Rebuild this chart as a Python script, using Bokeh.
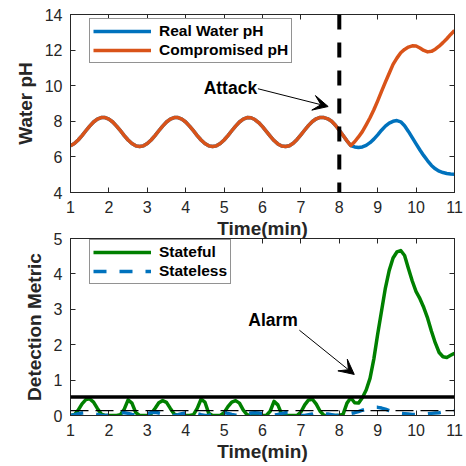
from bokeh.plotting import figure
from bokeh.models import (Span, Label, Arrow, VeeHead, LinearAxis, FixedTicker,
                          Legend, LegendItem, CustomJSTickFormatter)
from bokeh.layouts import column
from bokeh.embed import file_html
from bokeh.resources import INLINE

# ---------------------------------------------------------------- data
minutes = [
    1.0, 1.1, 1.2, 1.3, 1.4, 1.5, 1.6, 1.7, 1.8, 1.9,
    2.0, 2.1, 2.2, 2.3, 2.4, 2.5, 2.6, 2.7, 2.8, 2.9,
    3.0, 3.1, 3.2, 3.3, 3.4, 3.5, 3.6, 3.7, 3.8, 3.9,
    4.0, 4.1, 4.2, 4.3, 4.4, 4.5, 4.6, 4.7, 4.8, 4.9,
    5.0, 5.1, 5.2, 5.3, 5.4, 5.5, 5.6, 5.7, 5.8, 5.9,
    6.0, 6.1, 6.2, 6.3, 6.4, 6.5, 6.6, 6.7, 6.8, 6.9,
    7.0, 7.1, 7.2, 7.3, 7.4, 7.5, 7.6, 7.7, 7.8, 7.9,
    8.0, 8.1, 8.2, 8.3, 8.4, 8.5, 8.6, 8.7, 8.8, 8.9,
    9.0, 9.1, 9.2, 9.3, 9.4, 9.5, 9.6, 9.7, 9.8, 9.9,
    10.0, 10.1, 10.2, 10.3, 10.4, 10.5, 10.6, 10.7, 10.8, 10.9,
    11.0,
]

real_ph = [
    6.62, 6.75, 6.95, 7.20, 7.47, 7.73, 7.96, 8.12, 8.21, 8.21,
    8.12, 7.96, 7.73, 7.47, 7.20, 6.95, 6.75, 6.62, 6.58, 6.62,
    6.75, 6.95, 7.20, 7.47, 7.73, 7.96, 8.12, 8.21, 8.21, 8.12,
    7.96, 7.73, 7.47, 7.20, 6.95, 6.75, 6.62, 6.58, 6.62, 6.75,
    6.95, 7.20, 7.47, 7.73, 7.96, 8.12, 8.21, 8.20, 8.10, 7.93,
    7.70, 7.44, 7.17, 6.92, 6.73, 6.61, 6.58, 6.63, 6.77, 6.98,
    7.24, 7.51, 7.77, 7.99, 8.14, 8.22, 8.21, 8.14, 8.00, 7.78,
    7.50, 7.20, 6.90, 6.64, 6.56, 6.53, 6.56, 6.65, 6.80, 7.00,
    7.24, 7.50, 7.73, 7.90, 8.00, 8.04, 7.97, 7.75, 7.43, 7.08,
    6.73, 6.39, 6.07, 5.78, 5.52, 5.33, 5.20, 5.12, 5.07, 5.04,
    5.02,
]

# the sensor reading follows the real pH until 8.3 min, then is spoofed
compromised_ph = real_ph[:74] + [
    6.85, 7.12, 7.42, 7.80, 8.20, 8.65,
    9.15, 9.68, 10.20, 10.70, 11.20, 11.55, 11.85, 12.04, 12.17, 12.24,
    12.23, 12.12, 11.98, 11.90, 11.93, 12.05, 12.22, 12.42, 12.64, 12.88,
    13.10,
]

stateful = [
    0.00, 0.02, 0.15, 0.33, 0.45, 0.47, 0.38, 0.20, 0.04, 0.00,
    0.00, 0.00, 0.00, 0.02, 0.18, 0.44, 0.35, 0.08, 0.00, 0.00,
    0.00, 0.05, 0.20, 0.36, 0.42, 0.37, 0.20, 0.04, 0.00, 0.00,
    0.00, 0.00, 0.02, 0.20, 0.46, 0.38, 0.06, 0.00, 0.00, 0.00,
    0.08, 0.25, 0.38, 0.42, 0.35, 0.15, 0.02, 0.00, 0.00, 0.00,
    0.00, 0.00, 0.12, 0.40, 0.30, 0.04, 0.00, 0.00, 0.00, 0.00,
    0.10, 0.30, 0.44, 0.46, 0.32, 0.12, 0.01, 0.00, 0.00, 0.00,
    0.00, 0.04, 0.35, 0.50, 0.36, 0.35, 0.50, 0.72, 1.05, 1.60,
    2.30, 2.95, 3.60, 4.10, 4.45, 4.62, 4.66, 4.52, 4.15, 3.80,
    3.50, 3.30, 3.05, 2.75, 2.38, 2.05, 1.78, 1.66, 1.64, 1.70,
    1.76,
]

stateless = [
    0.00, 0.02, 0.05, 0.07, 0.08, 0.07, 0.05, 0.03, 0.01, 0.00,
    0.01, 0.03, 0.06, 0.08, 0.08, 0.06, 0.03, 0.01, 0.00, 0.02,
    0.05, 0.08, 0.09, 0.07, 0.04, 0.02, 0.00, 0.00, 0.02, 0.05,
    0.07, 0.08, 0.07, 0.05, 0.02, 0.00, 0.01, 0.03, 0.06, 0.08,
    0.08, 0.06, 0.03, 0.01, 0.00, 0.01, 0.04, 0.07, 0.08, 0.07,
    0.05, 0.02, 0.00, 0.01, 0.03, 0.06, 0.08, 0.08, 0.06, 0.03,
    0.01, 0.00, 0.02, 0.04, 0.07, 0.08, 0.07, 0.04, 0.02, 0.00,
    0.01, 0.03, 0.05, 0.06, 0.08, 0.11, 0.15, 0.18, 0.21, 0.23,
    0.23, 0.21, 0.18, 0.14, 0.11, 0.08, 0.06, 0.05, 0.04, 0.03,
    0.03, 0.03, 0.04, 0.05, 0.06, 0.07, 0.08, 0.10, 0.11, 0.12,
    0.13,
]

attack_time = 8.0
stateful_threshold = 0.52
stateless_threshold = 0.14

time_ticks = [1, 2, 3, 4, 5, 6, 7, 8, 9, 10, 11]
ph_ticks = [4, 6, 8, 10, 12, 14]
metric_ticks = [0, 1, 2, 3, 4, 5]

# ---------------------------------------------------------------- style
FONT = "Liberation Sans"
INK = "#262626"
BLUE = "#0072BD"
ORANGE = "#D95319"
GREEN = "#008000"


def box_axes(p, xticks, yticks, xlabel, ylabel):
    """MATLAB-like boxed axes: inward ticks on all four sides."""
    p.grid.visible = False
    p.outline_line_color = INK
    p.outline_line_width = 1
    xax, yax = p.xaxis[0], p.yaxis[0]
    xax.ticker = FixedTicker(ticks=xticks)
    yax.ticker = FixedTicker(ticks=yticks)
    xax.axis_label = xlabel
    yax.axis_label = ylabel
    for ax in (xax, yax):
        ax.axis_line_color = INK
        ax.major_tick_line_color = INK
        ax.major_tick_in = 5
        ax.major_tick_out = 0
        ax.minor_tick_line_color = None
        ax.major_label_text_font = FONT
        ax.major_label_text_font_size = "16px"
        ax.major_label_text_color = INK
        ax.major_label_standoff = 8
        ax.axis_label_text_font = FONT
        ax.axis_label_text_font_size = "19px"
        ax.axis_label_text_font_style = "bold"
        ax.axis_label_text_color = INK
    xax.axis_label_standoff = 2
    yax.axis_label_standoff = 6
    # tick marks only (no numbers) on the top and right edges of the box
    for side, ticks in (("above", xticks), ("right", yticks)):
        ax = LinearAxis(ticker=FixedTicker(ticks=ticks),
                        formatter=CustomJSTickFormatter(code="return ''"),
                        major_label_standoff=0,
                        major_tick_in=5, major_tick_out=0,
                        minor_tick_line_color=None,
                        axis_line_color=INK, major_tick_line_color=INK)
        p.add_layout(ax, side)


def make_legend(items, loc):
    return Legend(items=items, location=loc, margin=0, padding=3,
                  spacing=1, glyph_width=58, glyph_height=18,
                  label_height=18, label_standoff=8,
                  label_text_font=FONT, label_text_font_size="15.5px",
                  label_text_font_style="bold", label_text_color="black",
                  border_line_color=INK, border_line_width=1,
                  background_fill_color="white", background_fill_alpha=1)


# ---------------------------------------------------------------- top: pH
top = figure(width=466, height=241, x_range=(1, 11), y_range=(4, 14),
             output_backend="svg", toolbar_location=None,
             min_border_left=70, min_border_right=11, min_border_top=14,
             min_border_bottom=0)
box_axes(top, time_ticks, ph_ticks, "Time(min)", "Water pH")

real_r = top.line(minutes, real_ph, line_color=BLUE, line_width=3.5,
                  line_join="round")
comp_r = top.line(minutes, compromised_ph, line_color=ORANGE, line_width=3.5,
                  line_join="round")
top.add_layout(Span(location=attack_time, dimension="height",
                    line_color="black", line_width=4, line_dash="15 13"))

top.add_layout(Arrow(x_start=5.88, y_start=9.83, x_end=7.71, y_end=8.83,
                     line_color="black", line_width=1,
                     end=VeeHead(size=15, fill_color="black",
                                 line_color="black")))
top.add_layout(Label(x=5.86, y=9.88, text="Attack", text_align="right",
                     text_baseline="middle", text_font=FONT,
                     text_font_size="17.5px", text_font_style="bold",
                     text_color="black"))

top.add_layout(make_legend([LegendItem(label="Real Water pH", renderers=[real_r]),
                            LegendItem(label="Compromised pH", renderers=[comp_r])],
                           (19, 129)))

# ---------------------------------------------------------------- bottom: detection metric
# slid up under the upper panel's x-axis title, as in the stacked original
bottom = figure(width=466, height=236, x_range=(1, 11), y_range=(0, 5),
                output_backend="svg", toolbar_location=None,
                min_border_left=70, min_border_right=12, min_border_top=10,
                min_border_bottom=0, margin=(-13, 0, 0, 0),
                border_fill_alpha=0)
box_axes(bottom, time_ticks, metric_ticks, "Time(min)", "Detection Metric")

bottom.add_layout(Span(location=stateful_threshold, dimension="width",
                       line_color="black", line_width=3.5))
bottom.add_layout(Span(location=stateless_threshold, dimension="width",
                       line_color="black", line_width=1.3, line_dash="18 7"))

sf_r = bottom.line(minutes, stateful, line_color=GREEN, line_width=3.5,
                   line_join="round")
sl_r = bottom.line(minutes, stateless, line_color=BLUE, line_width=3.5,
                   line_dash="13 13")

bottom.add_layout(Arrow(x_start=6.96, y_start=2.41, x_end=8.39, y_end=1.16,
                        line_color="black", line_width=1,
                        end=VeeHead(size=15, fill_color="black",
                                    line_color="black")))
bottom.add_layout(Label(x=5.63, y=2.69, text="Alarm", text_align="left",
                        text_baseline="middle", text_font=FONT,
                        text_font_size="17.5px", text_font_style="bold",
                        text_color="black"))

bottom.add_layout(make_legend([LegendItem(label="Stateful", renderers=[sf_r]),
                               LegendItem(label="Stateless", renderers=[sl_r])],
                              (19, 131)))

p = column(top, bottom, spacing=0)
open("out.html", "w").write(file_html(p, INLINE))
